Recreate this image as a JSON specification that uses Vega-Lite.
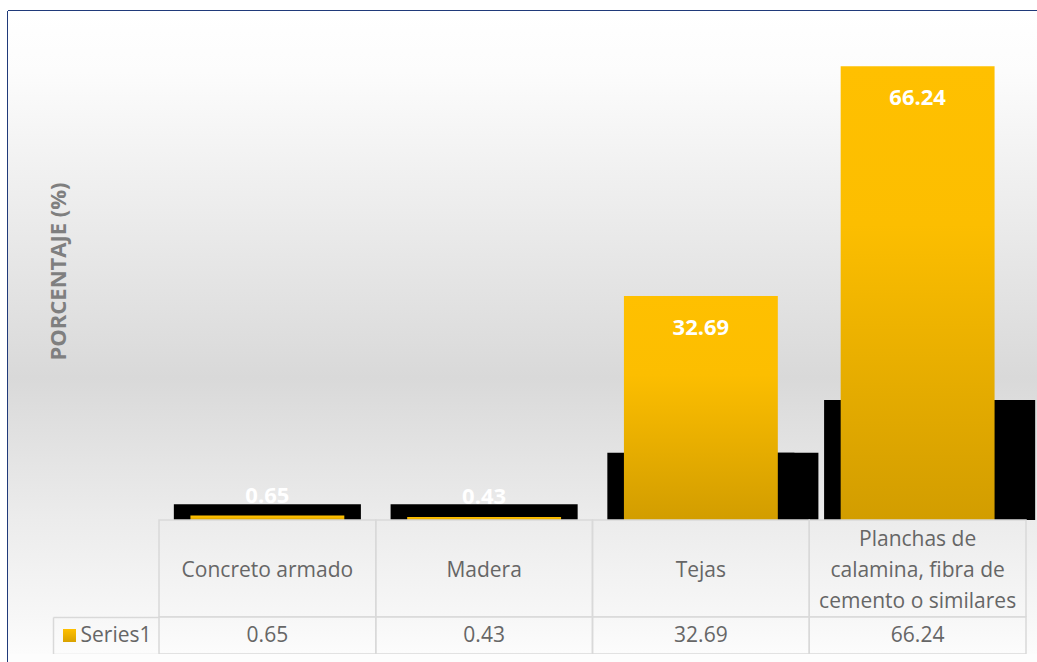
{
  "$schema": "https://vega.github.io/schema/vega-lite/v6.json",
  "background": "white",
  "padding": {"left": 7, "top": 10, "right": 0, "bottom": 0},
  "config": {"font": "Open Sans", "view": {"stroke": null}},
  "datasets": {
    "techos": [
      {"material": "Concreto armado", "lineas": ["Concreto armado"], "serie": "Series1", "valor": 0.65, "sombra": 2.3},
      {"material": "Madera", "lineas": ["Madera"], "serie": "Series1", "valor": 0.43, "sombra": 2.3},
      {"material": "Tejas", "lineas": ["Tejas"], "serie": "Series1", "valor": 32.69, "sombra": 9.8},
      {"material": "Planchas de calamina, fibra de cemento o similares", "lineas": ["Planchas de", "calamina, fibra de", "cemento o similares"], "serie": "Series1", "valor": 66.24, "sombra": 17.5}
    ]
  },
  "spacing": 0,
  "bounds": "flush",
  "resolve": {"scale": {"x": "independent", "y": "independent"}},
  "vconcat": [
    {
      "width": 1029,
      "height": 509,
      "view": {"stroke": "#203a7a", "strokeWidth": 2, "strokeDash": [1029, 1538, 509, 0]},
      "data": {"name": "techos"},
      "layer": [
        {
          "mark": {"type": "rect", "fill": {"gradient": "linear", "x1": 0, "y1": 0, "x2": 0, "y2": 1, "stops": [{"offset": 0, "color": "#ffffff"}, {"offset": 0.12, "color": "#fcfcfc"}, {"offset": 0.72, "color": "#d9d9d9"}, {"offset": 1, "color": "#ececec"}]}},
          "encoding": {"x": {"value": 0}, "x2": {"value": "width"}, "y": {"value": 0}, "y2": {"value": "height"}}
        },
        {
          "mark": {"type": "bar", "color": "#000000", "width": {"band": 0.863}},
          "encoding": {
            "x": {"field": "material", "type": "nominal", "sort": null, "scale": {"paddingInner": 0, "paddingOuter": 0.3737, "align": 0.9321}, "axis": null},
            "y": {"field": "sombra", "type": "quantitative", "scale": {"domain": [0, 74.3], "nice": false},
              "axis": {"title": "PORCENTAJE (%)", "zindex": 2, "labels": false, "ticks": false, "domain": false, "grid": false, "titleX": 50, "titleY": 260, "titleAngle": -90, "titleAlign": "center", "titleBaseline": "middle", "titleFont": "Open Sans", "titleFontSize": 22, "titleFontWeight": "bold", "titleColor": "#7f7f7f"}}
          }
        },
        {
          "transform": [{"filter": "datum.valor > 5"}],
          "mark": {"type": "bar", "color": "#000000", "width": {"band": 0.863}, "xOffset": 24},
          "encoding": {
            "x": {"field": "material", "type": "nominal", "sort": null},
            "y": {"field": "sombra", "type": "quantitative"}
          }
        },
        {
          "mark": {"type": "bar", "width": {"band": 0.71}, "fill": {"gradient": "linear", "x1": 0, "y1": 0, "x2": 0, "y2": 1, "stops": [{"offset": 0, "color": "#ffc000"}, {"offset": 0.35, "color": "#fcbe00"}, {"offset": 1, "color": "#d29d00"}]}},
          "encoding": {
            "x": {"field": "material", "type": "nominal", "sort": null},
            "y": {"field": "valor", "type": "quantitative",
              "axis": {"title": "PORCENTAJE (%)", "zindex": 2, "labels": false, "ticks": false, "domain": false, "grid": false, "titleX": 50, "titleY": 260, "titleAngle": -90, "titleAlign": "center", "titleBaseline": "middle", "titleFont": "Open Sans", "titleFontSize": 22, "titleFontWeight": "bold", "titleColor": "#7f7f7f"}}
          }
        },
        {
          "transform": [{"filter": "datum.valor > 5"}],
          "mark": {"type": "text", "color": "#ffffff", "fontWeight": "bold", "fontSize": 22, "baseline": "middle", "dy": 32},
          "encoding": {
            "x": {"field": "material", "type": "nominal", "sort": null},
            "y": {"field": "valor", "type": "quantitative"},
            "text": {"field": "valor", "type": "quantitative", "format": ".2f"}
          }
        },
        {
          "transform": [{"filter": "datum.valor <= 5"}],
          "mark": {"type": "text", "color": "#ffffff", "fontWeight": "bold", "fontSize": 22, "baseline": "middle", "dy": -20},
          "encoding": {
            "x": {"field": "material", "type": "nominal", "sort": null},
            "y": {"field": "valor", "type": "quantitative"},
            "text": {"field": "valor", "type": "quantitative", "format": ".2f"}
          }
        }
      ]
    },
    {
      "width": 1029,
      "height": 97,
      "view": {"stroke": "#203a7a", "strokeWidth": 2, "strokeDash": [0, 2155, 97, 0]},
      "data": {"name": "techos"},
      "layer": [
        {
          "mark": {"type": "rect", "fill": {"gradient": "linear", "x1": 0, "y1": 0, "x2": 0, "y2": 1, "stops": [{"offset": 0, "color": "#ececec"}, {"offset": 1, "color": "#f7f7f7"}]}},
          "encoding": {"x": {"value": 0}, "x2": {"value": "width"}, "y": {"value": 0}, "y2": {"value": "height"}}
        },
        {
          "mark": {"type": "rect", "fill": "#ffffff", "fillOpacity": 0, "stroke": "#d9d9d9", "strokeWidth": 1.5},
          "encoding": {
            "x": {"field": "material", "type": "nominal", "sort": null, "scale": {"paddingInner": 0, "paddingOuter": 0.3737, "align": 0.9321}, "axis": null}
          }
        },
        {
          "transform": [{"filter": "length(datum.lineas) === 1"}],
          "mark": {"type": "text", "fontSize": 21, "color": "#666666", "lineHeight": 30, "baseline": "middle", "dy": 2},
          "encoding": {
            "x": {"field": "material", "type": "nominal", "sort": null},
            "text": {"field": "lineas", "type": "nominal"}
          }
        },
        {
          "transform": [{"filter": "length(datum.lineas) > 1"}],
          "mark": {"type": "text", "fontSize": 21, "color": "#666666", "lineHeight": 31, "baseline": "middle", "dy": -29},
          "encoding": {
            "x": {"field": "material", "type": "nominal", "sort": null},
            "text": {"field": "lineas", "type": "nominal"}
          }
        }
      ]
    },
    {
      "width": 1029,
      "height": 37,
      "view": {"stroke": "#203a7a", "strokeWidth": 2, "strokeDash": [0, 2095, 37, 0]},
      "data": {"name": "techos"},
      "layer": [
        {
          "mark": {"type": "rect", "fill": {"gradient": "linear", "x1": 0, "y1": 0, "x2": 0, "y2": 1, "stops": [{"offset": 0, "color": "#f7f7f7"}, {"offset": 1, "color": "#fcfcfc"}]}},
          "encoding": {"x": {"value": 0}, "x2": {"value": "width"}, "y": {"value": 0}, "y2": {"value": "height"}}
        },
        {
          "mark": {"type": "rect", "fill": "#ffffff", "fillOpacity": 0, "stroke": "#d9d9d9", "strokeWidth": 1.5},
          "encoding": {
            "x": {"field": "material", "type": "nominal", "sort": null, "scale": {"paddingInner": 0, "paddingOuter": 0.3737, "align": 0.9321}, "axis": null},
            "y": {"field": "serie", "type": "nominal", "scale": {"paddingInner": 0, "paddingOuter": 0},
              "axis": {"title": null, "zindex": 2, "orient": "left", "offset": -45, "domain": true, "domainColor": "#d9d9d9", "domainWidth": 1.5, "ticks": true, "tickBand": "extent", "tickSize": -106, "tickColor": "#d9d9d9", "tickWidth": 1.5, "labelPadding": 8, "labelFont": "Open Sans", "labelFontSize": 21, "labelColor": "#666666", "grid": false}}
          }
        },
        {
          "mark": {"type": "text", "fontSize": 21, "color": "#666666", "baseline": "middle"},
          "encoding": {
            "x": {"field": "material", "type": "nominal", "sort": null},
            "y": {"field": "serie", "type": "nominal"},
            "text": {"field": "valor", "type": "quantitative", "format": ".2f"}
          }
        },
        {
          "transform": [{"filter": "datum.material === 'Concreto armado'"}],
          "mark": {"type": "square", "size": 169, "opacity": 1, "xOffset": -197.9, "fill": {"gradient": "linear", "x1": 0, "y1": 0, "x2": 0, "y2": 1, "stops": [{"offset": 0, "color": "#ffc000"}, {"offset": 1, "color": "#d9a200"}]}},
          "encoding": {
            "x": {"field": "material", "type": "nominal", "sort": null},
            "y": {"field": "serie", "type": "nominal"}
          }
        }
      ]
    },
    {
      "width": 1029,
      "height": 8,
      "view": {"stroke": "#203a7a", "strokeWidth": 2, "strokeDash": [0, 2066, 8, 0]},
      "data": {"name": "techos"},
      "mark": {"type": "rect", "fill": "#fdfdfd"},
      "encoding": {"x": {"value": 0}, "x2": {"value": "width"}, "y": {"value": 0}, "y2": {"value": "height"}}
    }
  ]
}
